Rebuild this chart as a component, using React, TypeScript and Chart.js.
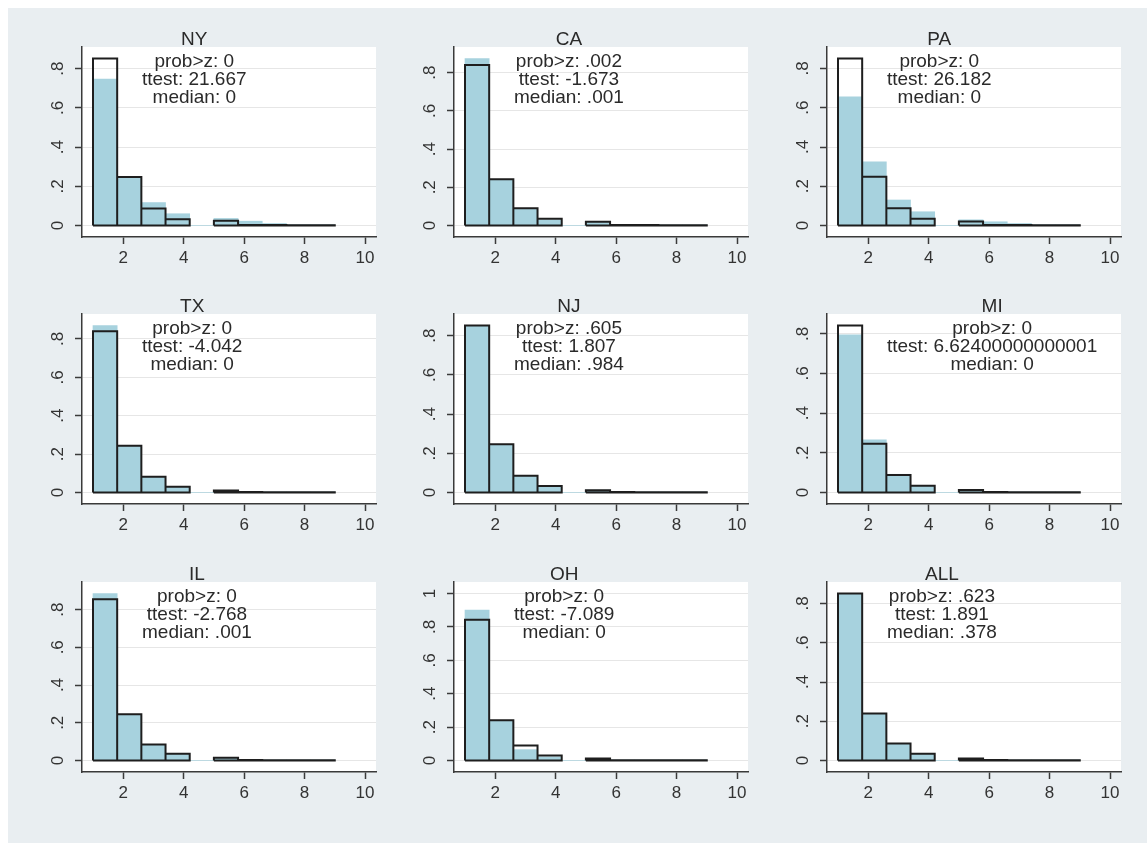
import React, { useEffect, useRef } from 'react';
import { Chart, registerables } from 'chart.js';

Chart.register(...registerables);

// ---------------- data ----------------
const BIN_LEFT = [1.0, 1.8, 2.6, 3.4, 4.2, 5.0, 5.8, 6.6, 7.4, 8.2];
const BIN_WIDTH = 0.8;
const X_TICKS = [2, 4, 6, 8, 10];
const Y_TICKS = [0, 0.2, 0.4, 0.6, 0.8];
const Y_TICKS_TO_ONE = [0, 0.2, 0.4, 0.6, 0.8, 1];

const PANEL_NAMES = ['NY', 'CA', 'PA', 'TX', 'NJ', 'MI', 'IL', 'OH', 'ALL'];
const PROB_Z = ['0', '.002', '0', '0', '.605', '0', '0', '0', '.623'];
const T_TEST = ['21.667', '-1.673', '26.182', '-4.042', '1.807', '6.62400000000001', '-2.768', '-7.089', '1.891'];
const MEDIAN = ['0', '.001', '0', '0', '.984', '0', '.001', '0', '.378'];

// light-blue filled histogram (density per bin)
const nyFill = [0.747, 0.25, 0.117, 0.06, 0, 0.036, 0.022, 0.01, 0.004, 0.004];
const caFill = [0.874, 0.242, 0.09, 0.03, 0, 0.018, 0.003, 0.002, 0.001, 0.001];
const paFill = [0.656, 0.325, 0.13, 0.07, 0, 0.029, 0.019, 0.01, 0.004, 0.004];
const txFill = [0.87, 0.243, 0.08, 0.032, 0, 0.01, 0.003, 0.002, 0.001, 0.001];
const njFill = [0.85, 0.246, 0.086, 0.033, 0, 0.012, 0.002, 0.001, 0.001, 0.001];
const miFill = [0.795, 0.266, 0.092, 0.034, 0, 0.012, 0.004, 0.002, 0.001, 0.001];
const ilFill = [0.885, 0.245, 0.085, 0.036, 0, 0.012, 0.002, 0.001, 0.001, 0.001];
const ohFill = [0.9, 0.241, 0.065, 0.022, 0, 0.01, 0.002, 0.001, 0.001, 0.001];
const allFill = [0.851, 0.239, 0.087, 0.034, 0, 0.01, 0.002, 0.001, 0.001, 0.001];

// black outlined histogram (density per bin)
const nyOutline = [0.852, 0.248, 0.087, 0.032, 0, 0.024, 0.003, 0.002, 0.001, 0.001];
const caOutline = [0.84, 0.242, 0.09, 0.035, 0, 0.02, 0.003, 0.002, 0.001, 0.001];
const paOutline = [0.851, 0.249, 0.088, 0.034, 0, 0.02, 0.003, 0.002, 0.001, 0.001];
const txOutline = [0.84, 0.243, 0.082, 0.03, 0, 0.01, 0.002, 0.001, 0.001, 0.001];
const njOutline = [0.852, 0.246, 0.086, 0.033, 0, 0.012, 0.002, 0.001, 0.001, 0.001];
const miOutline = [0.842, 0.246, 0.088, 0.034, 0, 0.012, 0.002, 0.001, 0.001, 0.001];
const ilOutline = [0.855, 0.245, 0.085, 0.036, 0, 0.014, 0.002, 0.001, 0.001, 0.001];
const ohOutline = [0.843, 0.241, 0.09, 0.03, 0, 0.012, 0.002, 0.001, 0.001, 0.001];
const allOutline = [0.851, 0.239, 0.087, 0.034, 0, 0.01, 0.002, 0.001, 0.001, 0.001];

const FILL_SERIES = [nyFill, caFill, paFill, txFill, njFill, miFill, ilFill, ohFill, allFill];
const OUTLINE_SERIES = [nyOutline, caOutline, paOutline, txOutline, njOutline, miOutline, ilOutline, ohOutline, allOutline];
const PANEL_Y_TICKS = [Y_TICKS, Y_TICKS, Y_TICKS, Y_TICKS, Y_TICKS, Y_TICKS, Y_TICKS, Y_TICKS_TO_ONE, Y_TICKS];

// ---------------- layout / style ----------------
const PLOT_LEFT = [82, 454, 827];
const PLOT_TOP = [47, 314, 582];
const PLOT_W = 294;
const PLOT_H = 190;
const PAD_L = 74;
const PAD_T = 36;
const PAD_R = 14;
const PAD_B = 48;
const CW = PAD_L + PLOT_W + PAD_R;
const CH = PAD_T + PLOT_H + PAD_B;

const FONT_FAMILY = '"Liberation Sans", Arial, Helvetica, sans-serif';
const BG = '#e9eef1';
const BLUE = '#a7d2de';
const OUTLINE = '#1e1e1e';
const AXIS = '#3a3a3a';
const GRID = '#e6e6e6';
const TEXT = '#2a2a2a';

function fmtTick(v: number): string {
  if (v === 0) return '0';
  if (Number.isInteger(v)) return String(v);
  return String(+v.toFixed(2)).replace(/^0\./, '.').replace(/^-0\./, '-.');
}

function outlinePoints(heights: number[]) {
  const pts: { x: number; y: number | null }[] = [];
  let groupStart: number | null = null;
  const closeGroup = (endEdge: number) => {
    if (groupStart === null) return;
    const start = BIN_LEFT[groupStart];
    pts.push({ x: start, y: 0 });
    pts.push({ x: (start + endEdge) / 2, y: null });
    groupStart = null;
  };
  heights.forEach((h, i) => {
    const l = BIN_LEFT[i];
    const r = l + BIN_WIDTH;
    if (h > 0) {
      if (groupStart === null) groupStart = i;
      pts.push({ x: l, y: 0 }, { x: l, y: h }, { x: r, y: h }, { x: r, y: 0 });
    } else {
      closeGroup(l);
    }
  });
  closeGroup(BIN_LEFT[BIN_LEFT.length - 1] + BIN_WIDTH);
  return pts;
}

const plotBgPlugin = {
  id: 'plotBg',
  beforeDraw(chart: any) {
    const { ctx, chartArea } = chart;
    ctx.save();
    ctx.fillStyle = '#ffffff';
    ctx.fillRect(chartArea.left, chartArea.top, chartArea.right - chartArea.left, chartArea.bottom - chartArea.top);
    ctx.restore();
  },
};

const panelTextPlugin = {
  id: 'panelText',
  afterDraw(chart: any, _args: any, opts: any) {
    const { ctx, chartArea } = chart;
    const lines: string[] = opts.lines || [];
    ctx.save();
    ctx.font = `19px ${FONT_FAMILY}`;
    const bw = Math.max(...lines.map((l) => ctx.measureText(l).width));
    const cx = chartArea.left + 60 + bw / 2;
    ctx.textAlign = 'center';
    ctx.textBaseline = 'middle';
    ctx.fillStyle = TEXT;
    const offs = [-7, 15, 33, 51];
    lines.forEach((l, i) => ctx.fillText(l, cx, chartArea.top + offs[i]));
    ctx.restore();
  },
};

function Panel({ index }: { index: number }) {
  const ref = useRef<HTMLCanvasElement>(null);
  useEffect(() => {
    const canvas = ref.current;
    if (!canvas) return;
    const fill = FILL_SERIES[index];
    const outline = OUTLINE_SERIES[index];
    const yTicks = PANEL_Y_TICKS[index];
    const hi = Math.max(yTicks[yTicks.length - 1], ...fill, ...outline);
    const yMargin = hi * (11.5 / (PLOT_H - 23));
    const xLo = 1;
    const xHi = X_TICKS[X_TICKS.length - 1];
    const xMargin = (xHi - xLo) * (11 / (PLOT_W - 22));

    const chart = new Chart(canvas, {
      type: 'bar',
      data: {
        datasets: [
          {
            type: 'line',
            data: outlinePoints(outline),
            borderColor: OUTLINE,
            borderWidth: 2,
            pointRadius: 0,
            pointHoverRadius: 0,
            fill: false,
            tension: 0,
            spanGaps: false,
            borderJoinStyle: 'miter',
            borderCapStyle: 'butt',
            order: 0,
          } as any,
          {
            type: 'bar',
            data: BIN_LEFT.map((l, i) => ({ x: l + BIN_WIDTH / 2, y: fill[i] })),
            backgroundColor: BLUE,
            borderWidth: 0,
            barPercentage: 1,
            categoryPercentage: 1,
            order: 1,
          } as any,
        ],
      },
      options: {
        animation: false,
        responsive: false,
        maintainAspectRatio: false,
        devicePixelRatio: 1,
        layout: { padding: { left: 0, top: PAD_T, right: PAD_R, bottom: 0 } },
        plugins: {
          legend: { display: false },
          tooltip: { enabled: false },
          panelText: {
            lines: [
              PANEL_NAMES[index],
              `prob>z: ${PROB_Z[index]}`,
              `ttest: ${T_TEST[index]}`,
              `median: ${MEDIAN[index]}`,
            ],
          },
        } as any,
        scales: {
          x: {
            type: 'linear',
            min: xLo - xMargin,
            max: xHi + xMargin,
            offset: false,
            afterBuildTicks: (s: any) => {
              s.ticks = X_TICKS.map((v) => ({ value: v }));
            },
            afterFit: (s: any) => {
              s.height = PAD_B;
            },
            grid: {
              display: true,
              offset: false,
              drawOnChartArea: false,
              drawTicks: true,
              tickLength: 7,
              tickColor: AXIS,
              tickWidth: 1.5,
            },
            border: { display: true, color: AXIS, width: 1.5 },
            ticks: {
              autoSkip: false,
              maxRotation: 0,
              minRotation: 0,
              padding: 4,
              color: '#333333',
              font: { family: FONT_FAMILY, size: 17 },
              callback: (v: any) => fmtTick(Number(v)),
            },
          },
          y: {
            type: 'linear',
            min: -yMargin,
            max: hi + yMargin,
            afterBuildTicks: (s: any) => {
              s.ticks = yTicks.map((v) => ({ value: v }));
            },
            afterFit: (s: any) => {
              s.width = PAD_L;
            },
            grid: {
              display: true,
              color: GRID,
              lineWidth: 1,
              drawTicks: true,
              tickLength: 7,
              tickColor: AXIS,
              tickWidth: 1.5,
            },
            border: { display: true, color: AXIS, width: 1.5 },
            ticks: {
              autoSkip: false,
              minRotation: 90,
              maxRotation: 90,
              crossAlign: 'center',
              padding: 10,
              color: '#333333',
              font: { family: FONT_FAMILY, size: 17 },
              callback: (v: any) => fmtTick(Number(v)),
            },
          },
        } as any,
      },
      plugins: [plotBgPlugin, panelTextPlugin],
    } as any);
    return () => chart.destroy();
  }, [index]);

  const r = Math.floor(index / 3);
  const c = index % 3;
  return (
    <canvas
      ref={ref}
      width={CW}
      height={CH}
      style={{
        position: 'absolute',
        left: PLOT_LEFT[c] - PAD_L - 8,
        top: PLOT_TOP[r] - PAD_T - 8,
        width: CW,
        height: CH,
      }}
    />
  );
}

export default function App() {
  return (
    <div
      style={{
        position: 'fixed',
        left: 8,
        top: 8,
        right: 0,
        bottom: 0,
        background: BG,
        overflow: 'hidden',
      }}
    >
      {PANEL_NAMES.map((_, i) => (
        <Panel key={i} index={i} />
      ))}
    </div>
  );
}
